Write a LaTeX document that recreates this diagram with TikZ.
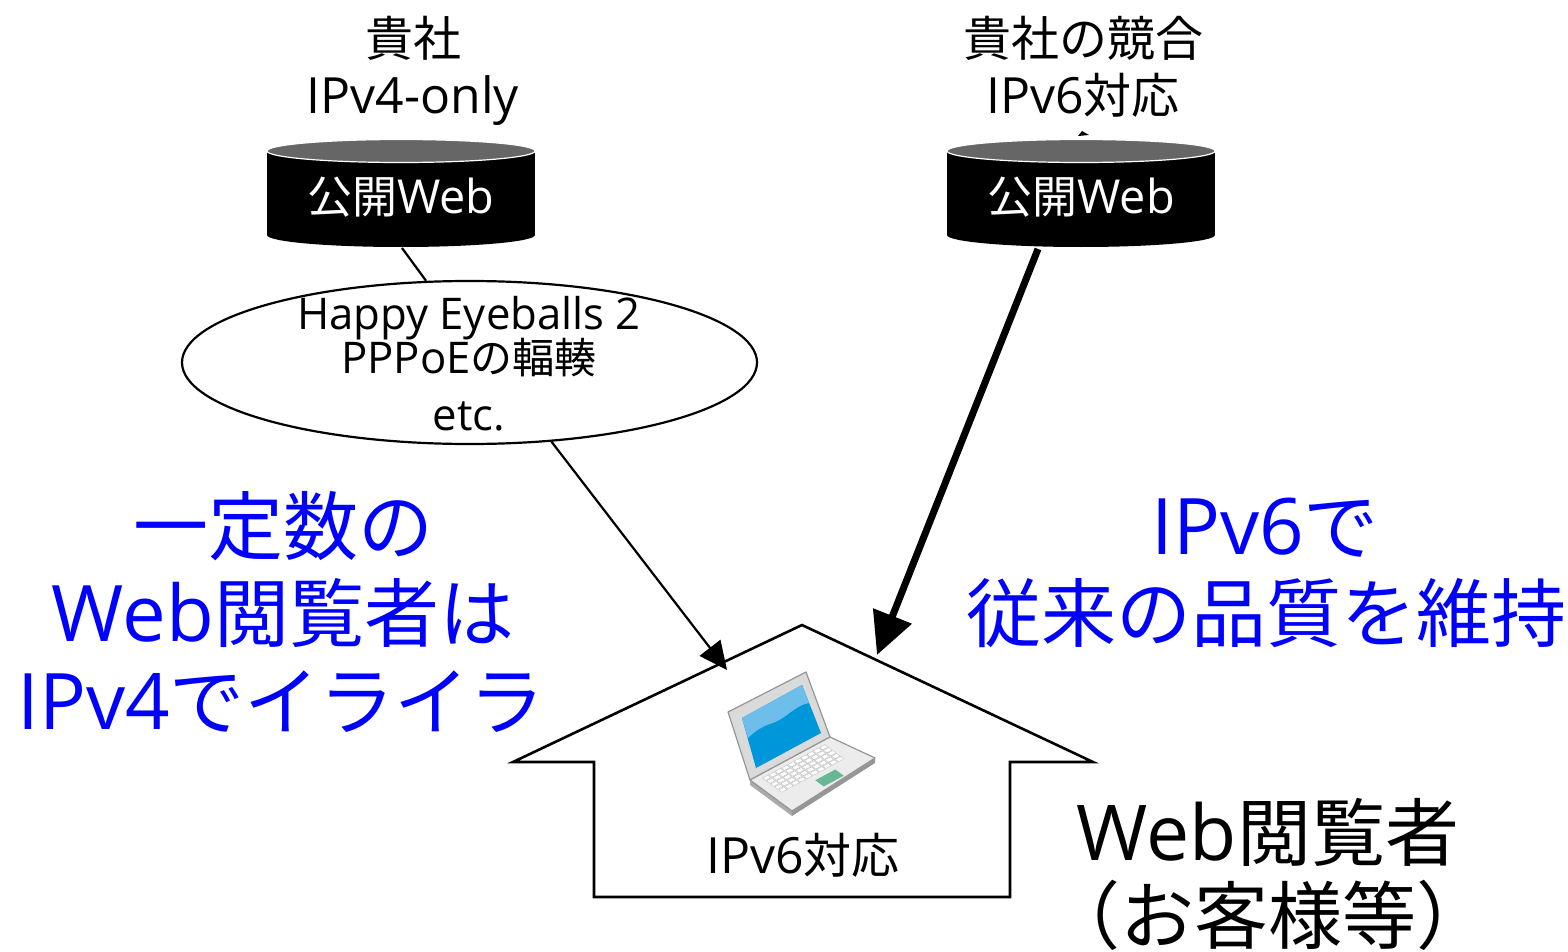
\documentclass[tikz,border=0pt]{standalone}
\usepackage{fontspec}
\setmainfont{Open Sans}[Scale=1.04]
\newfontfamily\jp{Noto Sans CJK JP}
\usetikzlibrary{arrows.meta,shapes.geometric,calc}
\newcommand\J[1]{{\jp #1}}

\definecolor{txtblue}{RGB}{0,0,255}
\definecolor{cylgray}{RGB}{102,102,102}
\definecolor{screen}{RGB}{0,150,218}
\definecolor{screenhi}{RGB}{110,190,236}
\definecolor{padgreen}{RGB}{104,182,148}
\definecolor{lidgray}{RGB}{218,218,218}
\definecolor{basegray}{RGB}{236,236,236}
\definecolor{lapedge}{RGB}{150,150,150}

\tikzset{
  lbl/.style={inner sep=0pt, anchor=base},
  toplbl/.style={lbl, font=\fontsize{48}{58}\selectfont},
  dblbl/.style={lbl, text=white, font=\fontsize{45}{54}\selectfont},
  ovallbl/.style={lbl, font=\fontsize{42}{50}\selectfont},
  bluelbl/.style={lbl, text=txtblue, font=\fontsize{75}{90}\selectfont},
  biglbl/.style={lbl, font=\fontsize{74}{88}\selectfont},
  houselbl/.style={lbl, font=\fontsize{48}{58}\selectfont},
  thinline/.style={line width=2.2pt},
  thinarrow/.style={line width=2.2pt, -{Triangle[length=28pt,width=26pt]}},
  thickarrow/.style={line width=7pt, -{Triangle[length=42pt,width=40pt]}},
}

\begin{document}
\begin{tikzpicture}[x=1pt, y=-1pt]
\useasboundingbox (0,0) rectangle (1568,952);

% ---- database cylinders ----
\fill (267,151) rectangle (535,235);
\fill (401,235) ellipse [x radius=134, y radius=12];
\filldraw[fill=cylgray, draw=white, line width=1.2pt] (401,151) ellipse [x radius=134, y radius=11.5];

\fill (947,151) rectangle (1215,235);
\fill (1081,235) ellipse [x radius=134, y radius=12];
\filldraw[fill=cylgray, draw=white, line width=1.2pt] (1081,151) ellipse [x radius=134, y radius=11.5];
\fill (1078,136) -- (1082,131) -- (1089,135) -- cycle;

\coordinate (dbLbot) at (402,248);
\coordinate (dbRbot) at (1038,249);

\node[dblbl] (dbL) at (401,213) {\J{公開}Web};
\node[dblbl] (dbR) at (1081,213) {\J{公開}Web};

% ---- site labels ----
\node[toplbl] (ownA) at (413,57) {\J{貴社}};
\node[toplbl] (ownB) at (413,114) {IPv4-only};
\node[toplbl] (rivA) at (1083,57) {\J{貴社の競合}};
\node[toplbl] (rivB) at (1083,114) {IPv6\J{対応}};

% ---- causes ----
\node[draw, ellipse, line width=2.2pt, minimum width=575pt, minimum height=163pt, inner sep=0pt] (he) at (469.5,362.5) {};
\node[ovallbl] (heA) at (469,329) {Happy Eyeballs 2};
\node[ovallbl] (heB) at (469,373) {PPPoE\J{の輻輳}};
\node[ovallbl] (heC) at (469,430) {etc.};

% ---- house ----
\draw[line width=2.6pt, line join=miter] (802,625) -- (1093,762) -- (1010,762) -- (1010,897)
  -- (594,897) -- (594,762) -- (513,762) -- cycle;
\coordinate (roofL) at (727,670);
\coordinate (roofR) at (877,655);
\node[houselbl] (home) at (803,873) {IPv6\J{対応}};

% ---- laptop ----
\filldraw[fill=lidgray, draw=lapedge, line width=1.2pt, line join=round]
  (728,712) -- (806,672) -- (830,737) -- (750,780) -- cycle;
\fill[screen] (742,718) -- (802,685) -- (821,733) -- (756,768) -- cycle;
\fill[screenhi] (742,718) -- (802,685) -- (809,703)
  .. controls (795,705) and (785,720) .. (770,724)
  .. controls (760,727) and (752,734) .. (748,738) -- cycle;
\fill[lapedge!80] (750,780) -- (792,811) -- (792,816) -- (750,785) -- cycle;
\fill[lapedge] (792,811) -- (875,758) -- (875,763) -- (792,816) -- cycle;
\filldraw[fill=basegray, draw=lapedge, line width=1.2pt, line join=round]
  (750,780) -- (830,737) -- (875,758) -- (792,811) -- cycle;
\begin{scope}[shift={(750,780)}, x={(80pt,43pt)}, y={(42pt,-31pt)}]
  \foreach \i in {0,...,9}
    \foreach \j in {0,...,4}
      \filldraw[fill=white, draw=lapedge!60, line width=0.4pt]
        ({0.11+\i*0.079},{0.09+\j*0.095}) -- ++(0.066,0) -- ++(0,0.078) -- ++(-0.066,0) -- cycle;
  \fill[padgreen] (0.47,0.66) -- ++(0.25,0) -- ++(0,0.2) -- ++(-0.25,0) -- cycle;
\end{scope}

% ---- connectors ----
\draw[thinline] (dbLbot) -- (he.118);
\draw[thinarrow] (he.-44.6) -- (roofL);
\draw[thickarrow] (dbRbot) -- (roofR);

% ---- captions ----
\node[bluelbl] (slowA) at (283,554) {\J{一定数の}};
\node[bluelbl] (slowB) at (283,641) {Web\J{閲覧者は}};
\node[bluelbl] (slowC) at (281,729) {IPv4\J{でイライラ}};
\node[bluelbl] (fastA) at (1265,554) {IPv6\J{で}};
\node[bluelbl] (fastB) at (1266,641) {\J{従来の品質を維持}};

\node[biglbl] (userA) at (1268,860) {Web\J{閲覧者}};
\node[biglbl] (userB) at (1268,943) {\J{（お客様等）}};
\end{tikzpicture}
\end{document}
